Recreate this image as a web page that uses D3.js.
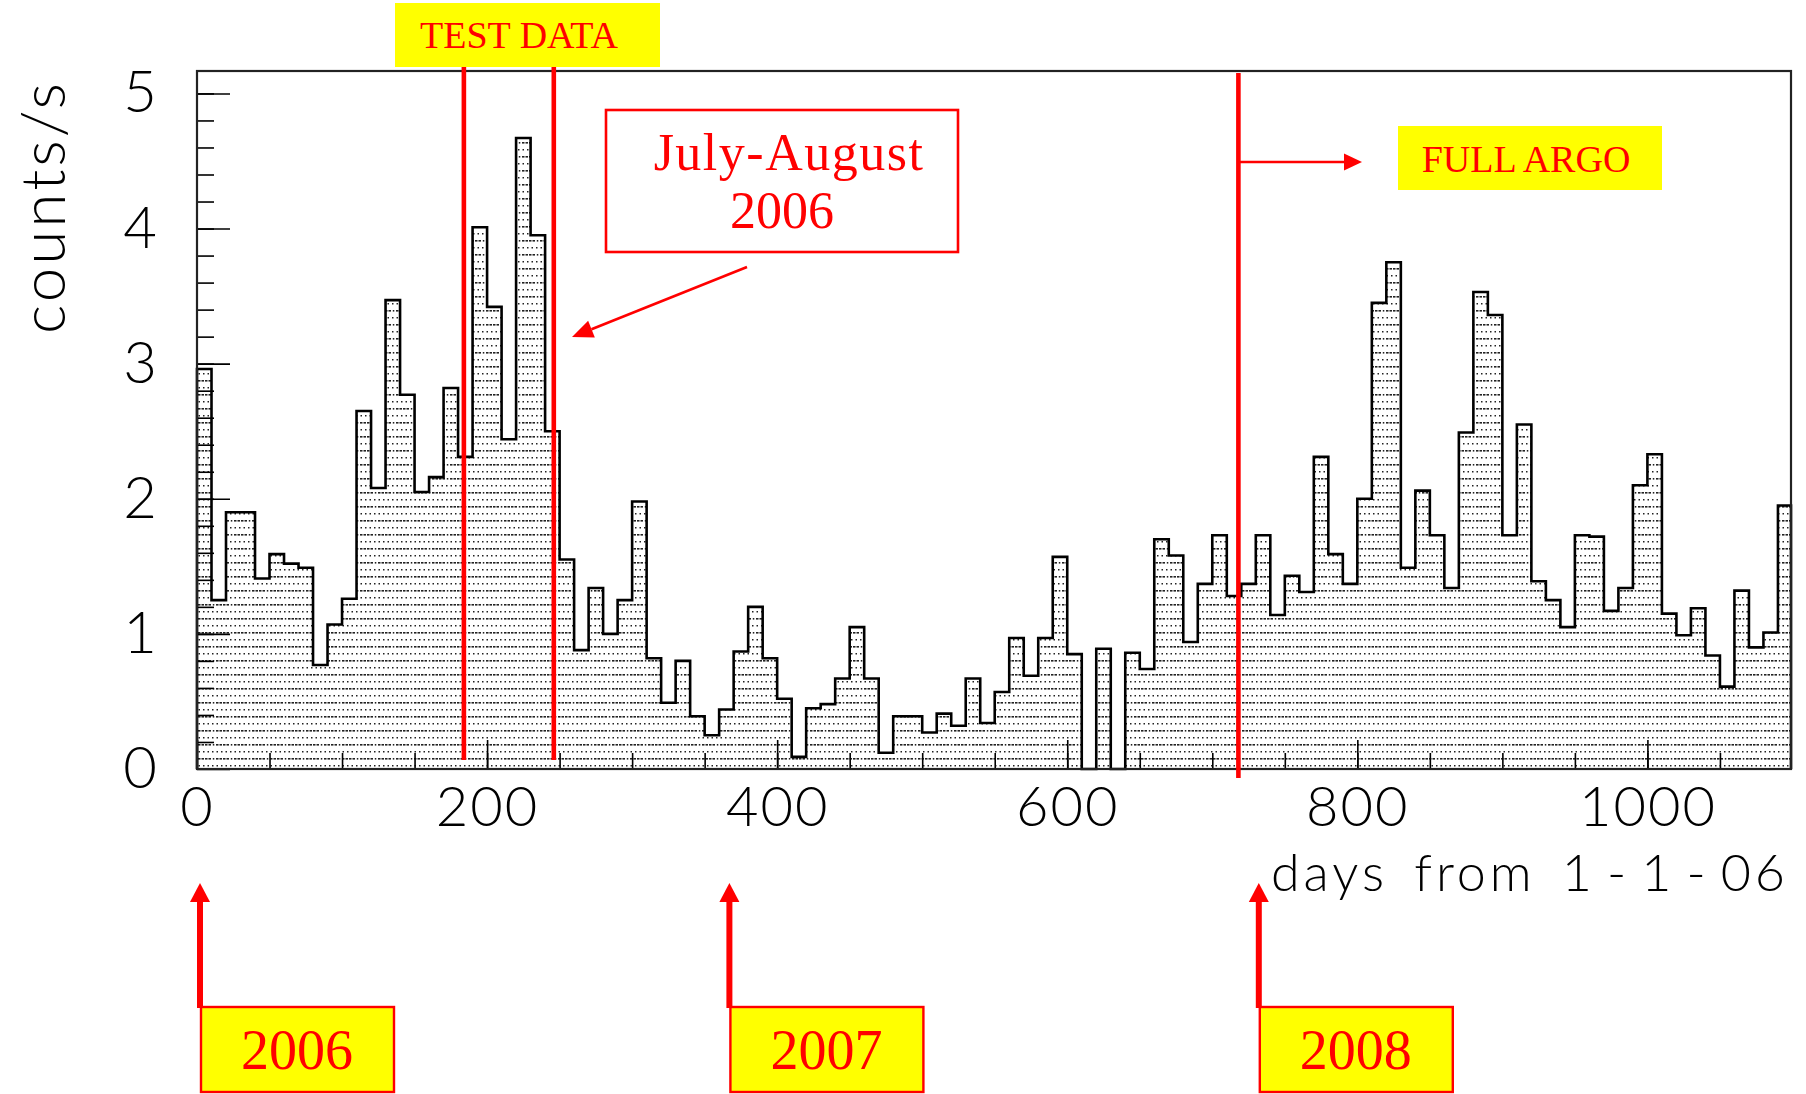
<!DOCTYPE html>
<html>
<head>
<meta charset="utf-8">
<script src="https://cdn.jsdelivr.net/npm/d3@7"></script>
<style>
  body { margin: 0; background: #fff; }
  svg { display: block; }
  .axis text { font-family: Lato, Roboto, "Liberation Sans", sans-serif; font-weight: 300; fill: #000; }
</style>
</head>
<body>
<div id="chart"></div>
<script>
// counts/s in 10-day bins, days from 1-1-06
const binWidth = 10;
const rates = [
  2.96, 1.25, 1.90, 1.90, 1.41, 1.59, 1.52, 1.49, 0.77, 1.07,
  1.26, 2.65, 2.08, 3.47, 2.77, 2.05, 2.16, 2.82, 2.31, 4.01,
  3.42, 2.44, 4.67, 3.95, 2.50, 1.55, 0.88, 1.34, 1.00, 1.25,
  1.98, 0.82, 0.49, 0.80, 0.39, 0.25, 0.44, 0.87, 1.20, 0.82,
  0.52, 0.09, 0.45, 0.48, 0.67, 1.05, 0.67, 0.12, 0.39, 0.39,
  0.27, 0.41, 0.32, 0.67, 0.34, 0.57, 0.97, 0.69, 0.97, 1.57,
  0.85, 0.00, 0.89, 0.00, 0.86, 0.74, 1.70, 1.58, 0.94, 1.37,
  1.73, 1.28, 1.37, 1.73, 1.14, 1.43, 1.31, 2.31, 1.59, 1.37,
  2.00, 3.45, 3.75, 1.49, 2.06, 1.73, 1.34, 2.49, 3.53, 3.36,
  1.73, 2.55, 1.39, 1.25, 1.05, 1.73, 1.72, 1.17, 1.34, 2.10,
  2.33, 1.15, 0.99, 1.19, 0.84, 0.61, 1.32, 0.90, 1.01, 1.95
];
const yTickValues = [0, 1, 2, 3, 4, 5];
const xTickValues = [0, 200, 400, 600, 800, 1000];
const testDataDays = [184, 246];
const fullArgoDay = 718;
const yearLabels = ['2006', '2007', '2008'];
const yearStartDays = [0, 365, 730];

const width = 1806, height = 1094;
const frame = { left: 197, right: 1791, top: 71, bottom: 769 };
const red = '#ff0000', yellow = '#ffff00';
const serif = '"Liberation Serif", "Times New Roman", serif';
const sans = 'Lato, Roboto, "Liberation Sans", sans-serif';

const svg = d3.select('#chart').append('svg')
  .attr('width', width)
  .attr('height', height);

const x = d3.scaleLinear().domain([0, 1099]).range([frame.left, frame.right]);
const y = d3.scaleLinear().domain([0, 5.166]).range([frame.bottom, frame.top]);

// fill pattern, rows of dashes and dots
const defs = svg.append('defs');
const pat = defs.append('pattern')
  .attr('id', 'hatch')
  .attr('patternUnits', 'userSpaceOnUse')
  .attr('width', 18).attr('height', 14);
[0, 3.5, 7, 10.5].forEach(px => {
  pat.append('rect').attr('x', px).attr('y', 2).attr('width', 2.5).attr('height', 1.6).attr('fill', '#222');
});
pat.append('rect').attr('x', 14.8).attr('y', 2).attr('width', 1.5).attr('height', 1.6).attr('fill', '#222');
[0.5, 5, 9.5, 14].forEach(px => {
  pat.append('rect').attr('x', px).attr('y', 9).attr('width', 1.5).attr('height', 1.5).attr('fill', '#222');
});

// histogram outline
const xMax = x.domain()[1];
const pts = [[0, 0]];
rates.forEach((v, i) => {
  pts.push([i * binWidth, v]);
  pts.push([Math.min((i + 1) * binWidth, xMax), v]);
});
pts.push([xMax, 0]);

const line = d3.line().x(d => x(d[0])).y(d => y(d[1]));

svg.append('path')
  .attr('d', line(pts) + 'Z')
  .attr('fill', 'url(#hatch)')
  .attr('stroke', 'none');

svg.append('path')
  .attr('d', line(pts))
  .attr('fill', 'none')
  .attr('stroke', '#000')
  .attr('stroke-width', 2.6);

// axes: ticks point into the frame
const fs = 56;
const xMajor = svg.append('g').attr('class', 'axis')
  .attr('transform', `translate(0,${frame.bottom})`)
  .call(d3.axisBottom(x).tickValues(xTickValues).tickSizeInner(-29).tickSizeOuter(0)
    .tickPadding(17).tickFormat(d3.format('d')));
xMajor.selectAll('text').style('font-size', fs + 'px').style('letter-spacing', '2px');

svg.append('g')
  .attr('transform', `translate(0,${frame.bottom})`)
  .call(d3.axisBottom(x).tickValues(d3.range(50, 1099, 50)).tickSizeInner(-16).tickSizeOuter(0).tickFormat(''));

const yMajor = svg.append('g').attr('class', 'axis')
  .attr('transform', `translate(${frame.left},0)`)
  .call(d3.axisLeft(y).tickValues(yTickValues).tickSizeInner(-33).tickSizeOuter(0).tickFormat(d3.format('d')));
yMajor.selectAll('text')
  .style('font-size', '58px')
  .attr('x', -57)
  .attr('text-anchor', 'middle');

svg.append('g')
  .attr('transform', `translate(${frame.left},0)`)
  .call(d3.axisLeft(y).tickValues(d3.range(0.2, 5.1, 0.2)).tickSizeInner(-17).tickSizeOuter(0).tickFormat(''));

svg.selectAll('.domain').remove();
svg.selectAll('.tick line').attr('stroke', '#000').attr('stroke-width', 1.6);

// frame
svg.append('rect')
  .attr('x', frame.left).attr('y', frame.top)
  .attr('width', frame.right - frame.left).attr('height', frame.bottom - frame.top)
  .attr('fill', 'none').attr('stroke', '#222').attr('stroke-width', 2.2);

// axis titles
svg.append('text')
  .attr('transform', 'translate(65,207) rotate(-90)')
  .attr('text-anchor', 'middle')
  .style('font-family', sans)
  .style('font-weight', 300)
  .style('font-size', '62px')
  .style('letter-spacing', '3px')
  .text('counts/s');

// x title, the dashes drawn with extra room as in the original
const xTitle = svg.append('text')
  .attr('x', 1789).attr('y', 891)
  .attr('text-anchor', 'end')
  .style('font-family', sans)
  .style('font-weight', 300)
  .style('font-size', '52px')
  .style('letter-spacing', '4px')
  .style('word-spacing', '8px');
['days from 1', '-', '1', '-', '06'].forEach((t, i) => {
  xTitle.append('tspan').attr('dx', i === 0 ? 0 : 11).text(t);
});

// arrow helper: shaft plus filled head
function arrow(x1, y1, x2, y2, w, headLen, headHalf) {
  const a = Math.atan2(y2 - y1, x2 - x1);
  const bx = x2 - headLen * Math.cos(a), by = y2 - headLen * Math.sin(a);
  svg.append('line')
    .attr('x1', x1).attr('y1', y1).attr('x2', bx).attr('y2', by)
    .attr('stroke', red).attr('stroke-width', w);
  const nx = -Math.sin(a) * headHalf, ny = Math.cos(a) * headHalf;
  svg.append('polygon')
    .attr('points', `${x2},${y2} ${bx + nx},${by + ny} ${bx - nx},${by - ny}`)
    .attr('fill', red);
}

// TEST DATA
svg.append('rect')
  .attr('x', 395).attr('y', 3).attr('width', 265).attr('height', 64)
  .attr('fill', yellow);
svg.append('text')
  .attr('x', 519).attr('y', 48)
  .attr('text-anchor', 'middle')
  .style('font-family', serif).style('font-size', '38px')
  .attr('fill', red)
  .text('TEST DATA');
svg.selectAll('.testline').data(testDataDays).enter().append('line')
  .attr('x1', d => x(d)).attr('x2', d => x(d))
  .attr('y1', 67).attr('y2', 760)
  .attr('stroke', red).attr('stroke-width', 4.6);

// July-August 2006
svg.append('rect')
  .attr('x', 606).attr('y', 110).attr('width', 352).attr('height', 142)
  .attr('fill', '#fff').attr('stroke', red).attr('stroke-width', 2.6);
svg.append('text')
  .attr('x', 789).attr('y', 170)
  .attr('text-anchor', 'middle')
  .style('font-family', serif).style('font-size', '52px').style('letter-spacing', '1.5px')
  .attr('fill', red)
  .text('July-August');
svg.append('text')
  .attr('x', 782).attr('y', 228)
  .attr('text-anchor', 'middle')
  .style('font-family', serif).style('font-size', '52px')
  .attr('fill', red)
  .text('2006');
arrow(747, 267, 572, 337, 2.6, 21, 9);

// FULL ARGO
svg.append('line')
  .attr('x1', x(fullArgoDay)).attr('x2', x(fullArgoDay))
  .attr('y1', 73).attr('y2', 778)
  .attr('stroke', red).attr('stroke-width', 4.6);
arrow(x(fullArgoDay), 162, 1362, 162, 2.4, 18, 8.5);
svg.append('rect')
  .attr('x', 1398).attr('y', 126).attr('width', 264).attr('height', 64)
  .attr('fill', yellow);
svg.append('text')
  .attr('x', 1526).attr('y', 172)
  .attr('text-anchor', 'middle')
  .style('font-family', serif).style('font-size', '38px')
  .attr('fill', red)
  .text('FULL ARGO');

// year markers below the axis
yearStartDays.forEach((d, i) => {
  const xa = x(d) + 3;
  arrow(xa, 1008, xa, 883, 6, 19, 10);
  svg.append('rect')
    .attr('x', x(d) + 4).attr('y', 1007).attr('width', 193).attr('height', 85)
    .attr('fill', yellow).attr('stroke', red).attr('stroke-width', 2.4);
  svg.append('text')
    .attr('x', x(d) + 100).attr('y', 1069)
    .attr('text-anchor', 'middle')
    .style('font-family', serif).style('font-size', '56px')
    .attr('fill', red)
    .text(yearLabels[i]);
});
</script>
</body>
</html>
